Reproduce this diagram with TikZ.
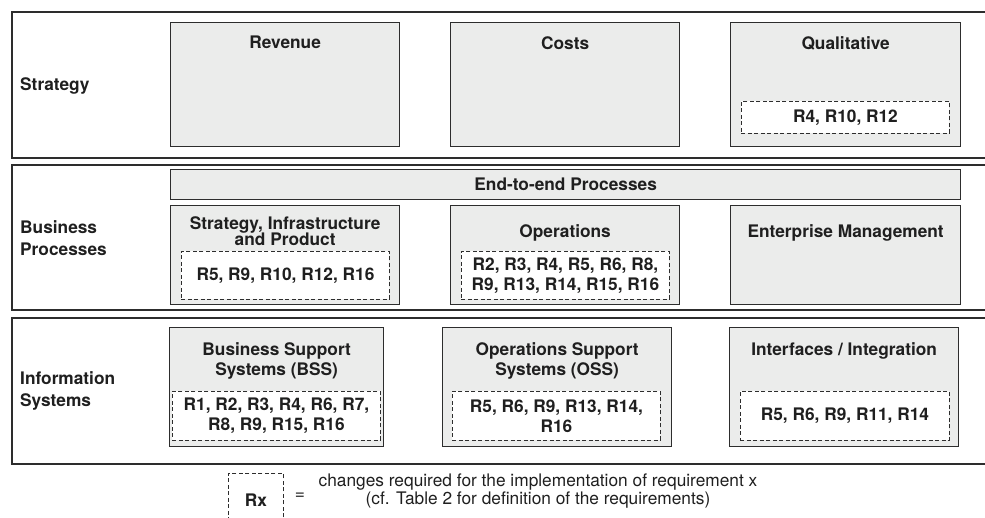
\documentclass[tikz,border=0pt]{standalone}
\usepackage{fontspec}
\setmainfont{TeX Gyre Heros}
\usetikzlibrary{positioning}

\definecolor{boxfill}{RGB}{235,236,235}
\definecolor{edge}{RGB}{45,45,45}

\begin{document}
\begin{tikzpicture}[
  x=1pt, y=-1pt,
  font=\fontsize{17.3}{20.5}\selectfont\bfseries,
  text=black!88,
  layer/.style={draw=edge, line width=2pt, anchor=north west, inner sep=0pt},
  area/.style={draw=edge, fill=boxfill, line width=1.3pt, anchor=north west, inner sep=0pt},
  req/.style={draw=edge, fill=white, line width=0.9pt, dash pattern=on 4pt off 2.5pt,
    anchor=north west, inner sep=0pt, align=center},
  title/.style={inner sep=0pt, align=center},
  lbl/.style={anchor=west, inner sep=0pt, align=left},
]
\path[use as bounding box, clip] (0,0) rectangle (985,517);

% three layers
\node[layer, minimum width=1000pt, minimum height=146pt] (strat) at (11,11) {};
\node[layer, minimum width=1000pt, minimum height=145pt] (proc) at (11,164) {};
\node[layer, minimum width=1000pt, minimum height=146pt] (infsys) at (11,317) {};

\node[lbl] (stratlbl) at (20,86) {Strategy};
\node[lbl] (proclbl) at (20,238) {Business\\[1.5pt]Processes};
\node[lbl] (infsyslbl) at (20,391) {Information\\[1pt]Systems};

% strategy
\node[area, minimum width=229pt, minimum height=124pt] (rev) at (170,22) {};
\node[area, minimum width=229pt, minimum height=124pt] (cost) at (450,22) {};
\node[area, minimum width=230pt, minimum height=124pt] (qual) at (730,22) {};
\node[title, below=14pt of rev.north] {Revenue};
\node[title, below=14pt of cost.north] {Costs};
\node[title, below=14pt of qual.north] {Qualitative};
\node[req, minimum width=208pt, minimum height=32pt] (qualreq) at (741,101) {R4, R10, R12};

% business processes
\node[area, minimum width=790pt, minimum height=30pt] (e2e) at (170,169) {End-to-end Processes};
\node[area, minimum width=229pt, minimum height=99pt] (sip) at (170,205) {};
\node[area, minimum width=229pt, minimum height=99pt] (ops) at (450,205) {};
\node[area, minimum width=230pt, minimum height=99pt] (em) at (730,205) {};
\node[title, below=11pt of sip.north] {Strategy, Infrastructure\\[-4pt]and Product};
\node[title, below=19pt of ops.north] {Operations};
\node[title, below=19pt of em.north] {Enterprise Management};
\node[req, minimum width=208pt, minimum height=48pt] (sipreq) at (181,251) {R5, R9, R10, R12, R16};
\node[req, minimum width=208pt, minimum height=48pt] (opsreq) at (461,251)
  {R2, R3, R4, R5, R6, R8,\\[-0.5pt]R9, R13, R14, R15, R16};

% information systems
\node[area, minimum width=214pt, minimum height=119pt] (bss) at (169,327) {};
\node[area, minimum width=229pt, minimum height=119pt] (oss) at (442,327) {};
\node[area, minimum width=229pt, minimum height=119pt] (intf) at (729,327) {};
\node[title, below=15pt of bss.north] {Business Support\\Systems (BSS)};
\node[title, below=15pt of oss.north] {Operations Support\\Systems (OSS)};
\node[title, below=15pt of intf.north] {Interfaces / Integration};
\node[req, minimum width=208pt, minimum height=49pt] (bssreq) at (172,391)
  {R1, R2, R3, R4, R6, R7,\\[-0.5pt]R8, R9, R15, R16};
\node[req, minimum width=208pt, minimum height=49pt] (ossreq) at (452,391)
  {R5, R6, R9, R13, R14,\\[-0.5pt]R16};
\node[req, minimum width=209pt, minimum height=49pt] (intfreq) at (740,391) {R5, R6, R9, R11, R14};

% key
\node[req, minimum width=55pt, minimum height=54pt] (key) at (228,473) {Rx};
\node[inner sep=0pt, font=\fontsize{17.3}{17}\selectfont] (keyeq) at (300,496) {=};
\node[inner sep=0pt, align=center, font=\fontsize{17.3}{17.5}\selectfont] (keytxt) at (538,491)
  {changes required for the implementation of requirement x\\(cf. Table 2 for definition of the requirements)};
\end{tikzpicture}
\end{document}
